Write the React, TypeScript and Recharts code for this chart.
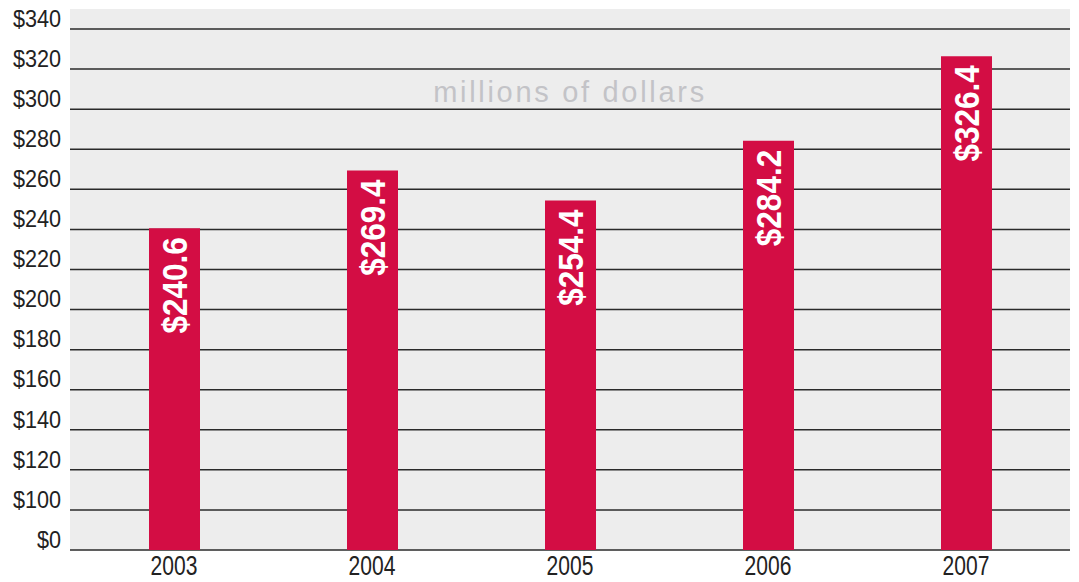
import { BarChart, Bar, XAxis, YAxis, CartesianGrid, LabelList } from 'recharts';

const years = ['2003', '2004', '2005', '2006', '2007'];
const revenue = [240.6, 269.4, 254.4, 284.2, 326.4];
// the axis is broken: the lowest gridline is labelled $0 but sits where 80 would be
const yTicks = [80, 100, 120, 140, 160, 180, 200, 220, 240, 260, 280, 300, 320, 340];

const data = years.map((year, i) => ({ year, revenue: revenue[i] }));

const FONT = '"Liberation Sans", Arial, sans-serif';

// no condensed face is installed, so squeeze the regular one horizontally
const YTick = ({ x, y, payload }: any) => (
    <text
        transform={`translate(${x - 1} ${y - 10}) scale(0.94 1)`}
        textAnchor="end"
        dominantBaseline="central"
        fontFamily={FONT}
        fontSize={23}
        fill="#222"
    >
        {payload.value === 80 ? '$0' : `$${payload.value}`}
    </text>
);

const XTick = ({ x, y, payload }: any) => (
    <text
        transform={`translate(${x} ${y + 8}) scale(0.78 1)`}
        textAnchor="middle"
        dominantBaseline="central"
        fontFamily={FONT}
        fontSize={27}
        fill="#222"
    >
        {payload.value}
    </text>
);

const BarValue = ({ x, y, width, value }: any) => {
    const cx = x + width / 2;
    const top = y + 9;
    return (
        <text
            transform={`translate(${cx} ${top}) rotate(-90) scale(0.9 1)`}
            textAnchor="end"
            dominantBaseline="central"
            fontFamily={FONT}
            fontWeight="bold"
            fontSize={35}
            fill="#fff"
        >
            {`$${value.toFixed(1)}`}
        </text>
    );
};

export default function App() {
    return (
        <div style={{ position: 'absolute', left: 0, top: 0, width: 1079, height: 582, background: '#fff' }}>
            <BarChart width={1079} height={582} data={data} margin={{ top: 9, right: 9, bottom: 0, left: 0 }}>
                <CartesianGrid vertical={false} syncWithTicks fill="#ededed" stroke="#2a2a2a" strokeWidth={1.5} />
                <XAxis
                    dataKey="year"
                    height={32}
                    axisLine={false}
                    tickLine={false}
                    tick={<XTick />}
                    padding={{ left: 5, right: 5 }}
                />
                <YAxis
                    width={70}
                    domain={[80, 350]}
                    ticks={yTicks}
                    allowDataOverflow
                    axisLine={false}
                    tickLine={false}
                    tick={<YTick />}
                />
                <Bar dataKey="revenue" fill="#d30d44" barSize={51} isAnimationActive={false}>
                    <LabelList dataKey="revenue" content={<BarValue />} />
                </Bar>
            </BarChart>
            <div
                style={{
                    position: 'absolute',
                    left: 0,
                    width: 1140,
                    top: 74,
                    textAlign: 'center',
                    fontFamily: FONT,
                    fontSize: 29,
                    letterSpacing: 2.7,
                    color: '#c3c3c7',
                    lineHeight: '36px',
                }}
            >
                millions of dollars
            </div>
        </div>
    );
}
